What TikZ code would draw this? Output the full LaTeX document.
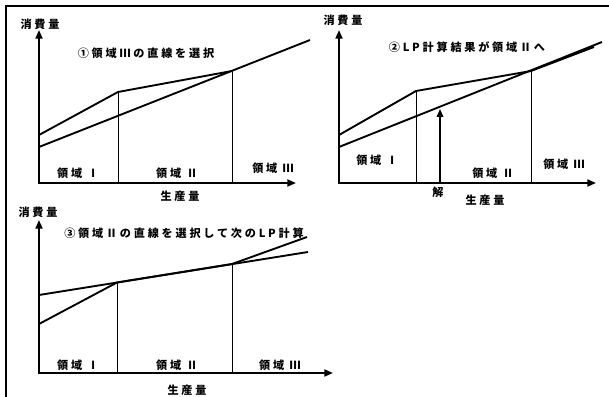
\documentclass[tikz,border=0pt]{standalone}
\usepackage{fontspec}
\newfontfamily\jpfont[LetterSpace=25]{Noto Sans CJK JP}
\usetikzlibrary{arrows.meta}

\begin{document}
\begin{tikzpicture}[
  x=0.03cm, y=-0.03cm,
  font=\jpfont\bfseries\fontsize{9.5}{11}\selectfont,
  axes/.style={{Triangle[length=2.6mm, width=2.1mm]}-{Triangle[length=2.6mm, width=2.1mm]},
               line width=1.6pt},
  graph/.style={line width=1.6pt, line join=round},
  divl/.style={line width=0.6pt},
  solv/.style={-{Triangle[length=2.4mm, width=2mm]}, line width=1.2pt},
  lbl/.style={inner sep=0pt}
]
\useasboundingbox (0,0) rectangle (609,397);

% ---------------------------------------------- frame
\draw[line width=1pt] (6,397) -- (6,6) -- (609,6);

% ---------------------------------------------- (1) choose line of region III
\coordinate (o1)  at (39,183);
\coordinate (ya1) at (39,30);
\coordinate (xa1) at (296,183);
\coordinate (a1)  at (39,135);
\coordinate (b1)  at (118,92);
\coordinate (c1)  at (232,71);
\coordinate (d1)  at (39,147);
\coordinate (e1)  at (310,40);

\draw[axes]  (ya1) -- (o1) -- (xa1);
\draw[graph] (a1) -- (b1) -- (c1);
\draw[graph] (d1) -- (e1);
\draw[divl]  (b1) -- (b1 |- o1);
\draw[divl]  (c1) -- (c1 |- o1);

\node[lbl] (yl1) at (40,24)   {消費量};
\node[lbl] (tl1) at (146,53)  {①領域Ⅲの直線を選択};
\node[lbl] (r11) at (78,173)  {領域 Ⅰ};
\node[lbl] (r21) at (177,173) {領域 Ⅱ};
\node[lbl] (r31) at (273,168) {領域 Ⅲ};
\node[lbl] (xl1) at (180,196) {生産量};

% ---------------------------------------------- (2) LP result falls in region II
\coordinate (o2)  at (339,183);
\coordinate (ya2) at (339,30);
\coordinate (xa2) at (596,183);
\coordinate (a2)  at (339,135);
\coordinate (b2)  at (416,91);
\coordinate (c2)  at (531,71);
\coordinate (f2)  at (594,47);
\coordinate (d2)  at (339,147);
\coordinate (e2)  at (602,42);
\coordinate (s2)  at (440,183);
\coordinate (t2)  at (440,109);

\draw[axes]  (ya2) -- (o2) -- (xa2);
\draw[graph] (a2) -- (b2) -- (c2) -- (f2);
\draw[graph] (d2) -- (e2);
\draw[divl]  (b2) -- (b2 |- o2);
\draw[divl]  (c2) -- (c2 |- o2);
\draw[solv]  (s2) -- (t2);

\node[lbl] (yl2) at (343,20)  {消費量};
\node[lbl] (tl2) at (467,47)  {②LP計算結果が領域Ⅱへ};
\node[lbl] (r12) at (377,160) {領域 Ⅰ};
\node[lbl] (r22) at (493,173) {領域 Ⅱ};
\node[lbl] (r32) at (564,164) {領域 Ⅲ};
\node[lbl] (sl2) at (438,192) {解};
\node[lbl] (xl2) at (485,200) {生産量};

% ---------------------------------------------- (3) choose line of region II
\coordinate (o3)  at (39,373);
\coordinate (ya3) at (39,220);
\coordinate (xa3) at (333,373);
\coordinate (u3)  at (39,295);
\coordinate (v3)  at (308,252);
\coordinate (p3)  at (39,324);
\coordinate (q3)  at (117,282.5);
\coordinate (r3)  at (232,264);
\coordinate (w3)  at (307,237);

\draw[axes]  (ya3) -- (o3) -- (xa3);
\draw[graph] (u3) -- (v3);
\draw[graph] (p3) -- (q3) -- (r3) -- (w3);
\draw[divl]  (q3) -- (q3 |- o3);
\draw[divl]  (r3) -- (r3 |- o3);

\node[lbl] (yl3) at (38,212)  {消費量};
\node[lbl] (tl3) at (184,233) {③領域Ⅱの直線を選択して次のLP計算};
\node[lbl] (r13) at (78,365)  {領域 Ⅰ};
\node[lbl] (r23) at (177,365) {領域 Ⅱ};
\node[lbl] (r33) at (280,365) {領域 Ⅲ};
\node[lbl] (xl3) at (187,390) {生産量};

\end{tikzpicture}
\end{document}
